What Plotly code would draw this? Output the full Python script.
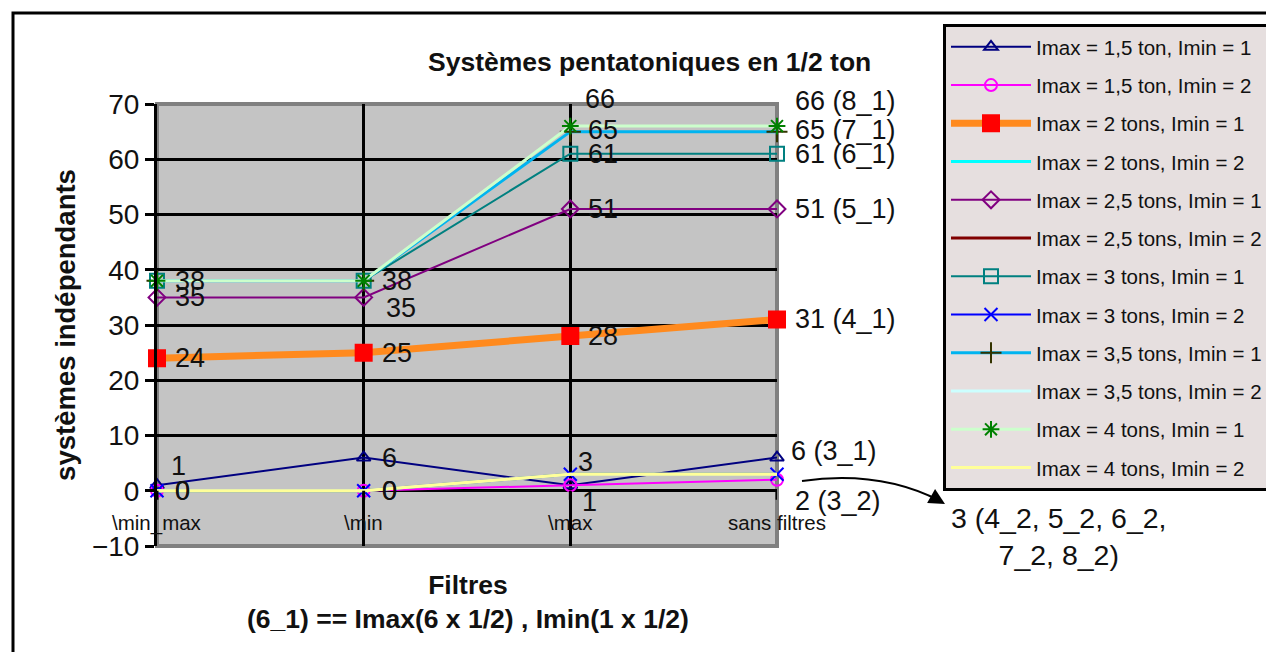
import plotly.graph_objects as go

# ---------------- data ----------------
categories = ["\\min_max", "\\min", "\\max", "sans filtres"]

series_names = [
    "Imax = 1,5 ton, Imin = 1",
    "Imax = 1,5 ton, Imin = 2",
    "Imax = 2 tons, Imin = 1",
    "Imax = 2 tons, Imin = 2",
    "Imax = 2,5 tons, Imin = 1",
    "Imax = 2,5 tons, Imin = 2",
    "Imax = 3 tons, Imin = 1",
    "Imax = 3 tons, Imin = 2",
    "Imax = 3,5 tons, Imin = 1",
    "Imax = 3,5 tons, Imin = 2",
    "Imax = 4 tons, Imin = 1",
    "Imax = 4 tons, Imin = 2",
]

v_15_1 = [1, 6, 1, 6]
v_15_2 = [0, 0, 1, 2]
v_2_1 = [24, 25, 28, 31]
v_2_2 = [0, 0, 3, 3]
v_25_1 = [35, 35, 51, 51]
v_25_2 = [0, 0, 3, 3]
v_3_1 = [38, 38, 61, 61]
v_3_2 = [0, 0, 3, 3]
v_35_1 = [38, 38, 65, 65]
v_35_2 = [0, 0, 3, 3]
v_4_1 = [38, 38, 66, 66]
v_4_2 = [0, 0, 3, 3]
series_values = [v_15_1, v_15_2, v_2_1, v_2_2, v_25_1, v_25_2,
                 v_3_1, v_3_2, v_35_1, v_35_2, v_4_1, v_4_2]

# end-of-line codes shown in the last data label
series_codes = ["3_1", "3_2", "4_1", "4_2", "5_1", "5_2",
                "6_1", "6_2", "7_1", "7_2", "8_1", "8_2"]

# which points carry a data label (True/False per category)
label_shown = [
    [True, True, True, True],
    [False, False, False, True],
    [True, True, True, True],
    [False, False, False, False],
    [True, True, True, True],
    [False, False, False, False],
    [True, True, True, True],
    [True, True, False, False],
    [False, False, True, True],
    [False, False, False, False],
    [False, False, True, True],
    [True, True, True, False],
]

title_text = "Systèmes pentatoniques en 1/2 ton"
y_title = "systèmes indépendants"
x_title = "Filtres<br>(6_1) == Imax(6 x 1/2) , Imin(1 x 1/2)"
note_text = "3 (4_2, 5_2, 6_2,<br>7_2, 8_2)"
y_ticks = [-10, 0, 10, 20, 30, 40, 50, 60, 70]

# ---------------- styles ----------------
styles = [
    dict(color="#000080", width=2, symbol="triangle-up-open", msize=12, mcolor="#000080"),
    dict(color="#FF00FF", width=2, symbol="circle-open", msize=12, mcolor="#FF00FF"),
    dict(color="#FF8A1E", width=7, symbol="square", msize=16, mcolor="#FF0000"),
    dict(color="#00FFFF", width=3, symbol=None),
    dict(color="#800080", width=2, symbol="diamond-open", msize=13, mcolor="#800080"),
    dict(color="#800000", width=3, symbol=None),
    dict(color="#008080", width=2, symbol="square-open", msize=14, mcolor="#008080"),
    dict(color="#0000FF", width=2, symbol="x-thin-open", msize=13, mcolor="#0000FF"),
    dict(color="#00B4F0", width=3, symbol="cross-thin-open", msize=15, mcolor="#333300"),
    dict(color="#CCFFFF", width=3, symbol=None),
    dict(color="#CCFFCC", width=3, symbol="asterisk-open", msize=14, mcolor="#008000"),
    dict(color="#FFFF99", width=3, symbol=None),
]

# label offsets in pixels (dx, dy; dy positive = downwards) per (series, category)
default_off = (16, 0)
label_offsets = {
    (0, 0): (12, -19), (0, 2): (10, 17), (0, 3): (12, -7),
    (1, 3): (16, 21),
    (4, 1): (20, 11),
    (10, 2): (13, -27), (10, 3): (16, -25),
    (8, 2): (16, -2), (8, 3): (16, -2),
    (11, 2): (6, -12),
}

FONT = "Arial, Liberation Sans, sans-serif"
PAGE_OFF = 8                      # default body margin of the html page
W, H = 1274 - PAGE_OFF, 652 - PAGE_OFF
# plot area in page pixels
PL, PR, PT, PB = 157, 777, 104, 546
L, T = PL - PAGE_OFF, PT - PAGE_OFF
R, B = W - (PR - PAGE_OFF), H - (PB - PAGE_OFF)
PW, PH = PR - PL, PB - PT


def px(x):
    """page pixel x -> paper"""
    return (x - PL) / PW


def py(y):
    """page pixel y -> paper"""
    return (PB - y) / PH


fig = go.Figure()
for i, (name, vals) in enumerate(zip(series_names, series_values)):
    st = styles[i]
    mode = "lines+markers" if st.get("symbol") else "lines"
    marker = None
    if st.get("symbol"):
        marker = dict(symbol=st["symbol"], size=st["msize"], color=st["mcolor"],
                      line=dict(color=st["mcolor"], width=2))
    fig.add_trace(go.Scatter(
        x=categories, y=vals, name=name, mode=mode,
        line=dict(color=st["color"], width=st["width"]),
        marker=marker, legendgroup=f"g{i}", cliponaxis=False,
    ))

annotations = []
for i, vals in enumerate(series_values):
    for j, v in enumerate(vals):
        if not label_shown[i][j]:
            continue
        txt = str(v)
        if j == len(categories) - 1:
            txt = f"{v} ({series_codes[i]})"
        dx, dy = label_offsets.get((i, j), default_off)
        annotations.append(dict(
            x=categories[j], y=v, xref="x", yref="y", text=txt, showarrow=False,
            xanchor="left", yanchor="middle", xshift=dx, yshift=-dy,
            font=dict(family=FONT, size=27, color="#111111"),
        ))

# category labels along the zero line
for c in categories:
    annotations.append(dict(
        x=c, y=0, xref="x", yref="y", text=c, showarrow=False,
        xanchor="center", yanchor="top", yshift=-18,
        font=dict(family=FONT, size=20.5, color="#111111"),
    ))

annotations.append(dict(
    x=px(1059), y=py(536), xref="paper", yref="paper", text=note_text,
    showarrow=False, xanchor="center", yanchor="middle", align="center",
    font=dict(family=FONT, size=28.5, color="#111111"),
))
# arrow head
annotations.append(dict(
    x=px(945), y=py(504), xref="paper", yref="paper", text="", showarrow=True,
    ax=-14, ay=-8, arrowhead=2, arrowsize=1.6, arrowwidth=2, arrowcolor="#000000",
))
annotations.append(dict(
    x=px(649), y=py(62), xref="paper", yref="paper", text=f"<b>{title_text}</b>",
    showarrow=False, xanchor="center", yanchor="middle",
    font=dict(family=FONT, size=26.5, color="#111111"),
))
annotations.append(dict(
    x=px(468), y=py(602), xref="paper", yref="paper", text=f"<b>{x_title}</b>",
    showarrow=False, xanchor="center", yanchor="middle", align="center",
    font=dict(family=FONT, size=26.5, color="#111111"),
))

shapes = [
    # outer frame
    dict(type="rect", xref="paper", yref="paper", x0=px(13), y0=py(13),
         x1=px(1290), y1=py(670), line=dict(color="#000000", width=3)),
    # plot area border
    dict(type="rect", xref="paper", yref="paper", x0=0, y0=0, x1=1, y1=1,
         line=dict(color="#808080", width=4), layer="between"),
    # curved arrow body
    dict(type="path", xref="paper", yref="paper",
         path=f"M {px(802)} {py(481)} Q {px(880)} {py(470)} {px(940)} {py(501)}",
         line=dict(color="#000000", width=2)),
]
for c in categories:
    shapes.append(dict(type="line", xref="x", yref="y", x0=c, x1=c,
                       ysizemode="pixel", yanchor=0, y0=0, y1=-9,
                       line=dict(color="#000000", width=3)))

fig.update_layout(
    width=W, height=H,
    margin=dict(l=L, r=R, t=T, b=B, autoexpand=False),
    paper_bgcolor="#FFFFFF",
    plot_bgcolor="#C4C4C4",
    font=dict(family=FONT, color="#111111"),
    showlegend=True,
    legend=dict(
        x=px(943), y=py(24), xanchor="left", yanchor="top",
        bgcolor="#E6DFDF", bordercolor="#000000", borderwidth=3,
        font=dict(family=FONT, size=20.5, color="#111111"),
        itemwidth=80, tracegroupgap=8.6, maxheight=560,
        itemclick=False, itemdoubleclick=False,
    ),
    xaxis=dict(
        type="category", range=[0, len(categories) - 1],
        showgrid=True, gridcolor="#000000", gridwidth=3,
        showticklabels=False, ticks="", showline=False, zeroline=False,
    ),
    yaxis=dict(
        range=[-10, 70], tickvals=y_ticks,
        showgrid=True, gridcolor="#000000", gridwidth=3,
        zeroline=True, zerolinecolor="#000000", zerolinewidth=3,
        showline=True, linecolor="#000000", linewidth=3,
        ticks="outside", ticklen=9, tickwidth=3, tickcolor="#000000",
        tickfont=dict(family=FONT, size=28, color="#111111"),
        title=dict(text=f"<b>{y_title}</b>", standoff=9,
                   font=dict(family=FONT, size=27.5, color="#111111")),
    ),
    annotations=annotations,
    shapes=shapes,
)

fig.write_html("out.html")
